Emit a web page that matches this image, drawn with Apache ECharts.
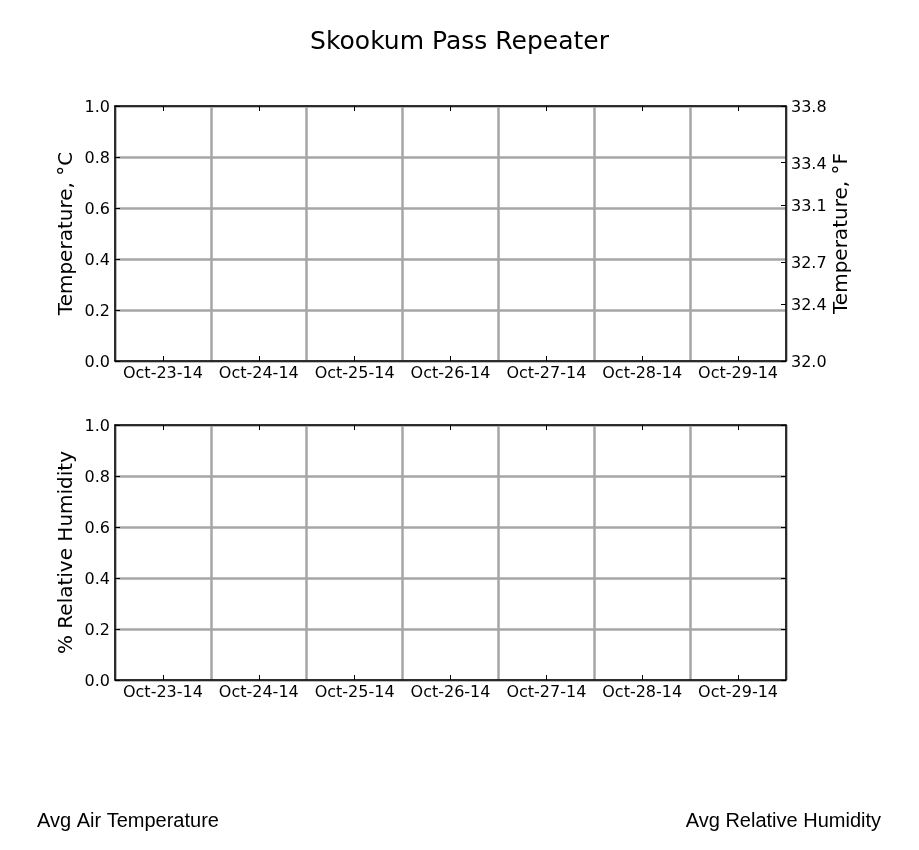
<!DOCTYPE html>
<html>
<head>
<meta charset="utf-8">
<script src="https://cdn.jsdelivr.net/npm/echarts@6/dist/echarts.min.js"></script>
<style>html,body{margin:0;padding:0;background:#fff}#c{width:919px;height:850px}</style>
</head>
<body>
<div id="c"></div>
<script>
const titleText = 'Skookum Pass Repeater';
const categories = ['Oct-23-14','Oct-24-14','Oct-25-14','Oct-26-14','Oct-27-14','Oct-28-14','Oct-29-14'];
const tempC = [];            // Avg Air Temperature (no data plotted)
const relHum = [];           // Avg Relative Humidity (no data plotted)
const leftTicks = [0, 0.2, 0.4, 0.6, 0.8, 1.0];
const fTicks = [32.0, 32.4, 32.7, 33.1, 33.4, 33.8];
const seriesNames = ['Avg Air Temperature', 'Avg Relative Humidity'];

const FONT = 'DejaVu Sans';
const GRID_COLOR = '#a6a6a6';
const chart = echarts.init(document.getElementById('c'), null, {renderer: 'canvas'});

const yLabelRich = {d: {color: '#000', fontFamily: FONT, fontSize: 16, padding: [4, 0, 0, 0]}};

function xBottom(gi) {
  return {
    type: 'category', gridIndex: gi, data: categories, position: 'bottom', boundaryGap: true,
    axisLine: {show: true, onZero: false, lineStyle: {color: '#000', width: 1.5}},
    axisTick: {show: true, inside: true, alignWithLabel: true, length: 5, lineStyle: {color: '#000'}},
    axisLabel: {show: true, interval: 0, color: '#000', fontFamily: FONT, fontSize: 16, margin: 5},
    splitLine: {show: true, interval: 0, lineStyle: {color: GRID_COLOR, width: 2.5}}
  };
}
function xTop(gi) {
  return {
    type: 'category', gridIndex: gi, data: categories, position: 'top', boundaryGap: true,
    axisLine: {show: true, onZero: false, lineStyle: {color: '#000', width: 1.5}},
    axisTick: {show: true, inside: true, alignWithLabel: true, length: 5, lineStyle: {color: '#000'}},
    axisLabel: {show: false}, splitLine: {show: false}
  };
}
function yLeft(gi, name) {
  return {
    type: 'value', gridIndex: gi, position: 'left', min: 0, max: 1, interval: 0.2,
    name: name, nameLocation: 'middle', nameGap: 38, nameRotate: 90, nameMoveOverlap: false,
    nameTextStyle: {color: '#000', fontFamily: FONT, fontSize: 20},
    axisLine: {show: true, onZero: false, lineStyle: {color: '#000', width: 1.5}},
    axisTick: {show: true, inside: true, length: 5, lineStyle: {color: '#000'}},
    axisLabel: {color: '#000', fontFamily: FONT, fontSize: 16, margin: 5, rich: yLabelRich, formatter: v => '{d|' + v.toFixed(1) + '}'},
    splitLine: {show: true, lineStyle: {color: GRID_COLOR, width: 2.5}}
  };
}

const option = {
  backgroundColor: '#fff',
  animation: false,
  title: [
    {text: titleText, left: 'center', top: 25, textStyle: {fontFamily: FONT, fontSize: 25, fontWeight: 'normal', color: '#000'}},
    {text: seriesNames[0], left: 37, top: 811, padding: 0, textStyle: {fontFamily: 'Liberation Sans', fontSize: 20, fontWeight: 'normal', color: '#000'}},
    {text: seriesNames[1], right: 38, top: 811, padding: 0, textStyle: {fontFamily: 'Liberation Sans', fontSize: 20, fontWeight: 'normal', color: '#000'}}
  ],
  grid: [
    {left: 115, right: 133, top: 106, height: 255, containLabel: false},
    {left: 115, right: 133, top: 425, height: 255, containLabel: false}
  ],
  xAxis: [xBottom(0), xTop(0), xBottom(1), xTop(1)],
  yAxis: [
    yLeft(0, 'Temperature, °C'),
    {
      type: 'value', gridIndex: 0, position: 'right', min: 32, max: 33.8,
      name: 'Temperature, °F', nameLocation: 'middle', nameGap: 46, nameRotate: 90, nameMoveOverlap: false,
      nameTextStyle: {color: '#000', fontFamily: FONT, fontSize: 20},
      axisLine: {show: true, onZero: false, lineStyle: {color: '#000', width: 1.5}},
      axisTick: {show: true, inside: true, length: 5, customValues: fTicks, lineStyle: {color: '#000'}},
      axisLabel: {color: '#000', fontFamily: FONT, fontSize: 16, margin: 5, customValues: fTicks, rich: yLabelRich, formatter: v => '{d|' + v.toFixed(1) + '}'},
      splitLine: {show: false}
    },
    yLeft(1, '% Relative Humidity'),
    {
      type: 'value', gridIndex: 1, position: 'right', min: 0, max: 1, interval: 0.2,
      axisLine: {show: true, onZero: false, lineStyle: {color: '#000', width: 1.5}},
      axisTick: {show: true, inside: true, length: 5, lineStyle: {color: '#000'}},
      axisLabel: {show: false}, splitLine: {show: false}
    }
  ],
  series: [
    {name: seriesNames[0], type: 'line', xAxisIndex: 0, yAxisIndex: 0, data: tempC, showSymbol: false},
    {name: seriesNames[1], type: 'line', xAxisIndex: 2, yAxisIndex: 2, data: relHum, showSymbol: false}
  ]
};
chart.setOption(option);
</script>
</body>
</html>
